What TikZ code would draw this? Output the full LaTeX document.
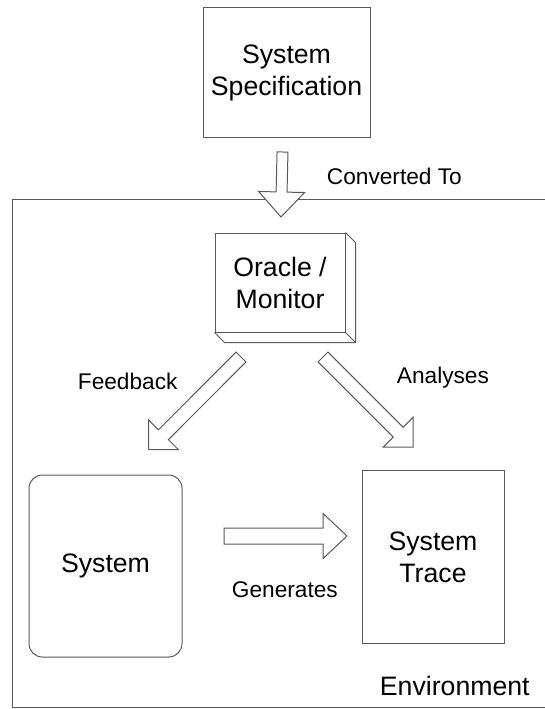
\documentclass[tikz,border=0pt]{standalone}
\usepackage{fontspec}
\setmainfont{Liberation Sans}
\usetikzlibrary{calc}

\tikzset{every picture/.style={line width=0.75pt}}
\tikzset{
  blockarrow/.style n args={3}{draw=black!65, fill=white, to path={
    ($(\tikztostart)!#1!90:(\tikztotarget)$)
    -- ($($(\tikztotarget)!#3!(\tikztostart)$)!#1!-90:(\tikztostart)$)
    -- ($($(\tikztotarget)!#3!(\tikztostart)$)!#2!-90:(\tikztostart)$)
    -- (\tikztotarget)
    -- ($($(\tikztotarget)!#3!(\tikztostart)$)!#2!90:(\tikztostart)$)
    -- ($($(\tikztotarget)!#3!(\tikztostart)$)!#1!90:(\tikztostart)$)
    -- ($(\tikztostart)!#1!-90:(\tikztotarget)$) -- cycle}},
  box/.style={draw=black!65, align=center, font=\fontsize{20}{24}\selectfont},
  lbl/.style={anchor=base west, font=\fontsize{17}{20}\selectfont}
}

\begin{document}
\begin{tikzpicture}[x=0.75pt,y=0.75pt,yscale=-1,xscale=1]
\useasboundingbox (0,0) rectangle (544,709);

%Shape: Environment frame
\draw [draw=black!65] (550,200) -- (12,200) -- (12,707) -- (550,707) ;

%Shape: Rectangle [spec]
\node [box, minimum width=125.25pt, minimum height=97.5pt] (spec) at (286.5,73) {System\\Specification};
%Shape: Cube [oracle]
\node [box, minimum width=97.5pt, minimum height=74.25pt] (oracle) at (280,282.5) {Oracle /\\Monitor};
\draw [draw=black!65] (oracle.north east) -- ++(10,10) -- ($(oracle.south east)+(10,10)$) -- ($(oracle.south west)+(10,10)$) -- (oracle.south west) ;
\draw [draw=black!65] (oracle.south east) -- ++(10,10) ;
%Shape: Rounded Rectangle [system]
\node [box, rounded corners=10pt, minimum width=114.75pt, minimum height=136.5pt] (system) at (105.5,566) {System};
%Shape: Rectangle [trace]
\node [box, minimum width=106.5pt, minimum height=129.4pt] (trace) at (433,557) {System\\Trace};

%Block Arrows
\coordinate (convS) at (282.5,152) ;
\coordinate (convE) at (281,217) ;
\draw [blockarrow={4.1pt}{17.25pt}{18.75pt}] (convS) to (convE) ;

\coordinate (feedS) at (241,357) ;
\coordinate (feedE) at (148.6,449.6) ;
\draw [blockarrow={5.25pt}{15.75pt}{15.75pt}] (feedS) to (feedE) ;

\coordinate (analS) at (323,357) ;
\coordinate (analE) at (413,447) ;
\draw [blockarrow={5.25pt}{15.75pt}{15.75pt}] (analS) to (analE) ;

\coordinate (genS) at (224,536) ;
\coordinate (genE) at (347,536) ;
\draw [blockarrow={6pt}{16.9pt}{18pt}] (genS) to (genE) ;

% Text Node
\node [lbl] (conv) at (322,185) {Converted To};
% Text Node
\node [lbl] (feed) at (73,389.5) {Feedback};
% Text Node
\node [lbl] (anal) at (392,383.5) {Analyses};
% Text Node
\node [lbl] (gen) at (227,597) {Generates};
% Text Node
\node [lbl, font=\fontsize{20}{24}\selectfont] (env) at (375,695) {Environment};

\end{tikzpicture}
\end{document}
